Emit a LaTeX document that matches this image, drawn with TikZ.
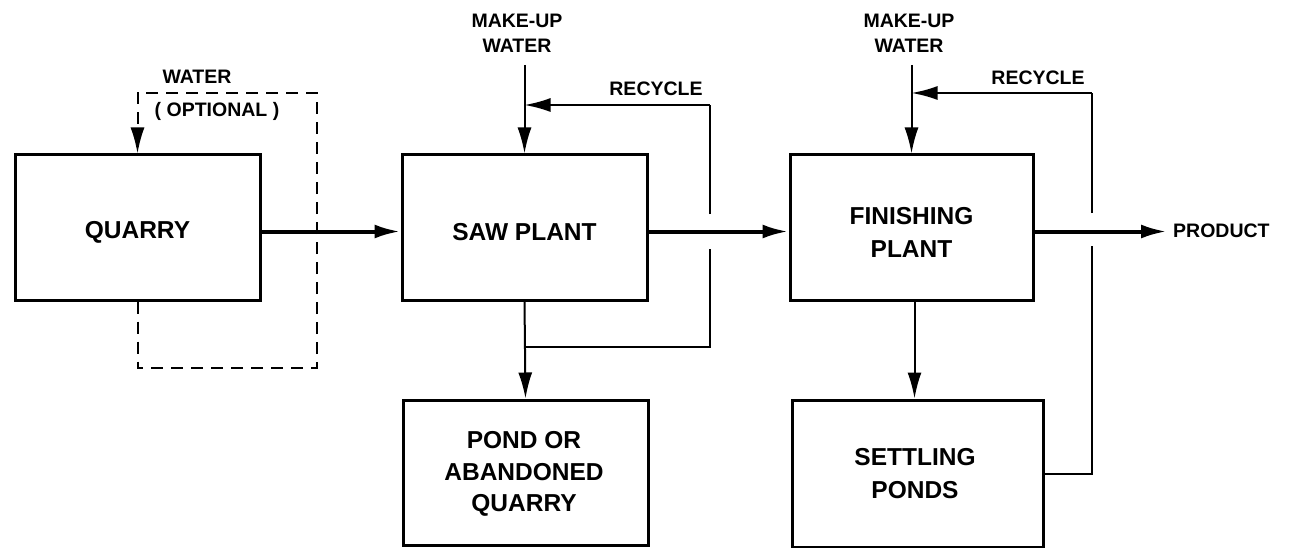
\documentclass[tikz,border=0pt]{standalone}
\usepackage{fontspec}
\setmainfont{Liberation Sans}
\usetikzlibrary{arrows.meta}
\begin{document}
\begin{tikzpicture}[x=1pt,y=-1pt,
 box/.style={draw,line width=3pt,minimum width=245pt,minimum height=145pt,inner sep=0pt},
 btxt/.style={inner sep=0pt,align=center,font=\bfseries\fontsize{24.5}{33}\selectfont},
 lbl/.style={inner sep=0pt,align=center,font=\bfseries\fontsize{19.5}{25}\selectfont},
 tip/.style={-{Latex[length=26pt,width=14pt]}},
 flow/.style={line width=4pt,tip},
 thin/.style={line width=2pt,tip},
 plain/.style={line width=2pt},
 dsh/.style={line width=2pt,dash pattern=on 12pt off 8pt}]
\useasboundingbox (0,0) rectangle (1297,548);

% boxes
\node[box] (quarry) at (137.5,227.5) {};
\node[box] (saw) at (524.5,227.5) {};
\node[box] (pond) at (525.5,472.5) {};
\node[box,minimum width=243pt] (fin) at (911.5,227.5) {};
\node[box,minimum width=251pt,minimum height=147pt] (set) at (917.5,473.5) {};

% box texts
\node[btxt] (tq) at (137.5,232) {QUARRY};
\node[btxt] (ts) at (524.5,232) {SAW PLANT};
\node[btxt] (tp) at (524,474) {POND OR\\[-1pt]ABANDONED\\[-2pt]QUARRY};
\node[btxt] (tf) at (911.5,232) {FINISHING\\PLANT};
\node[btxt] (tset) at (915,474) {SETTLING\\PONDS};

% labels
\node[lbl] (w1) at (197,77) {WATER};
\node[lbl] (opt) at (217,111) {( OPTIONAL )};
\node[lbl] (mu1) at (517,33) {MAKE-UP\\WATER};
\node[lbl] (rc1) at (656,89) {RECYCLE};
\node[lbl] (mu2) at (909,33) {MAKE-UP\\WATER};
\node[lbl] (rc2) at (1038,78) {RECYCLE};
\node[lbl,anchor=west] (prod) at (1173,231) {PRODUCT};

% coordinates
\coordinate (d1) at (137.5,93);
\coordinate (d2) at (317,93);
\coordinate (d3) at (317,368);
\coordinate (d4) at (137.5,368);

\coordinate (s_in) at (524.5,65);
\coordinate (s_j) at (524.5,105);
\coordinate (r1a) at (710,105);
\coordinate (r1b) at (710,214);
\coordinate (r1c) at (710,249);
\coordinate (r1d) at (710,347);
\coordinate (s_k) at (524.5,347);

\coordinate (f_in) at (911.5,65);
\coordinate (f_j) at (911.5,93);
\coordinate (r2a) at (1092,93);
\coordinate (r2b) at (1092,213);
\coordinate (r2c) at (1092,246);
\coordinate (r2d) at (1092,473.5);

% quarry water (optional)
\draw[dsh,tip] (quarry.south) -- (d4) -- (d3) -- (d2) -- (d1) -- (quarry.north);

% main flow
\draw[flow] ([yshift=-4pt]quarry.east) -- ([yshift=-4pt]saw.west);
\draw[flow] ([yshift=-4pt]saw.east) -- ([yshift=-4pt]fin.west);
\draw[flow,shorten >=6pt] ([yshift=-4pt]fin.east) -- ([yshift=-4pt]fin.east -| prod.west);

% saw plant water
\draw[plain] (s_in) -- (s_j);
\draw[thin] (s_j) -- (saw.north);
\draw[thin] (r1a) -- (s_j);
\draw[plain] (r1b) -- (r1a);
\draw[plain] (s_k) -- (r1d) -- (r1c);
\draw[thin] (saw.south) -- (pond.north);

% finishing plant water
\draw[plain] (f_in) -- (f_j);
\draw[thin] (f_j) -- (fin.north);
\draw[thin] (r2a) -- (f_j);
\draw[plain] (r2b) -- (r2a);
\draw[plain] (set.east) -- (r2d) -- (r2c);
\draw[thin] ([xshift=3pt]fin.south) -- ([xshift=-3pt]set.north);
\end{tikzpicture}
\end{document}
